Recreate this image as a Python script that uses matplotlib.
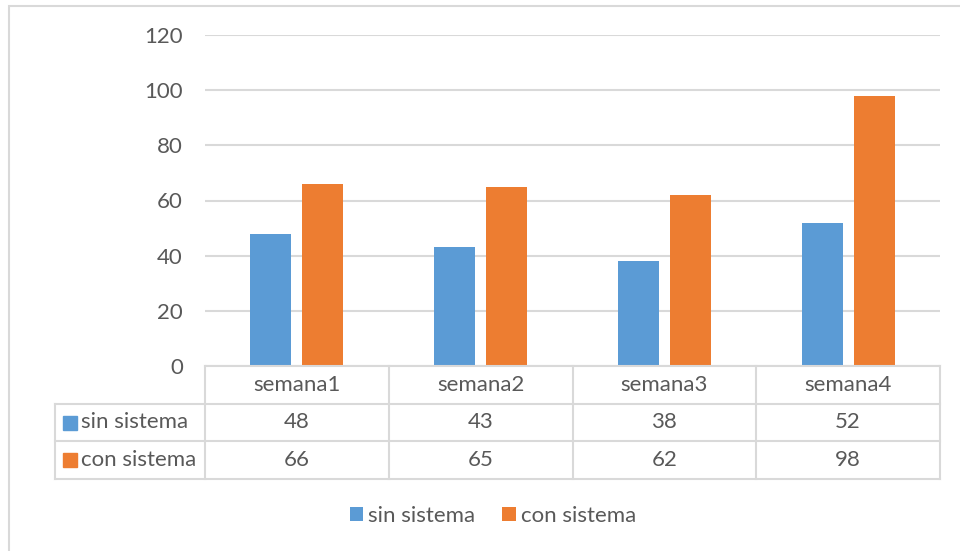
import matplotlib.pyplot as plt
from matplotlib.patches import Rectangle
from matplotlib.lines import Line2D

plt.rcParams['font.family'] = ['Lato', 'DejaVu Sans']

categories = ['semana1', 'semana2', 'semana3', 'semana4']
series_names = ['sin sistema', 'con sistema']
sin_sistema = [48, 43, 38, 52]
con_sistema = [66, 65, 62, 98]
colors = ['#5b9bd5', '#ed7d31']
y_ticks = [0, 20, 40, 60, 80, 100, 120]

W, H = 960, 551
text_color = '#595959'
grid_color = '#d9d9d9'


def fx(px):
    return px / W


def fy(py):
    return 1 - py / H


fig = plt.figure(figsize=(9.6, 5.51), dpi=100)

# chart area border
fig.add_artist(Rectangle((fx(8.5), fy(600)), fx(1000), fy(5.5) - fy(600),
                         transform=fig.transFigure, fill=False,
                         edgecolor=grid_color, linewidth=1.5))

left, right, top, bottom = 205, 940, 35, 366
ax = fig.add_axes([fx(left), fy(bottom), fx(right - left), fy(top) - fy(bottom)])

fs = 16
n = len(categories)
xs = [i + 0.5 for i in range(n)]
width = 0.223
offset = 0.1415
ax.bar([x - offset for x in xs], sin_sistema, width, color=colors[0], zorder=3,
       label=series_names[0])
ax.bar([x + offset for x in xs], con_sistema, width, color=colors[1], zorder=3,
       label=series_names[1])

ax.set_xlim(0, n)
ax.set_ylim(0, 120)
ax.set_yticks(y_ticks)
ax.set_xticks([])
ax.yaxis.grid(True, color=grid_color, linewidth=1.5, zorder=0)
ax.tick_params(axis='y', length=0, pad=16, labelsize=fs, labelcolor=text_color)
for s in ax.spines.values():
    s.set_visible(False)

# data table
row_h = (479 - 366) / 3
rows_y = [366 + row_h * k for k in range(4)]
col_w = (right - left) / n
cols_x = [left + col_w * k for k in range(n + 1)]
lw = 1.5
# horizontal lines
fig.add_artist(Line2D([fx(left), fx(right)], [fy(rows_y[0])] * 2, color=grid_color, lw=lw))
for yy in rows_y[1:]:
    fig.add_artist(Line2D([fx(55), fx(right)], [fy(yy)] * 2, color=grid_color, lw=lw))
# vertical lines
fig.add_artist(Line2D([fx(55)] * 2, [fy(rows_y[1]), fy(rows_y[3])], color=grid_color, lw=lw))
for xx in cols_x:
    fig.add_artist(Line2D([fx(xx)] * 2, [fy(rows_y[0]), fy(rows_y[3])], color=grid_color, lw=lw))

for i, cat in enumerate(categories):
    cx = (cols_x[i] + cols_x[i + 1]) / 2
    fig.text(fx(cx), fy((rows_y[0] + rows_y[1]) / 2), cat, ha='center', va='center',
             fontsize=fs, color=text_color)
    for r, vals in enumerate([sin_sistema, con_sistema]):
        fig.text(fx(cx), fy((rows_y[r + 1] + rows_y[r + 2]) / 2), str(vals[i]),
                 ha='center', va='center', fontsize=fs, color=text_color)

for r, name in enumerate(series_names):
    cy = (rows_y[r + 1] + rows_y[r + 2]) / 2
    fig.add_artist(Rectangle((fx(63), fy(cy + 7)), fx(14), fy(cy - 7) - fy(cy + 7),
                             transform=fig.transFigure, color=colors[r]))
    fig.text(fx(81), fy(cy), name, ha='left', va='center', fontsize=fs, color=text_color)

# legend
handles, labels = ax.get_legend_handles_labels()
fig.legend(handles, labels, loc='center', bbox_to_anchor=(fx(493), fy(516)), ncol=2,
           frameon=False, fontsize=fs, labelcolor=text_color, handlelength=0.6,
           handleheight=0.6, handletextpad=0.25, columnspacing=1.2)

fig.savefig('out.png', dpi=100)
